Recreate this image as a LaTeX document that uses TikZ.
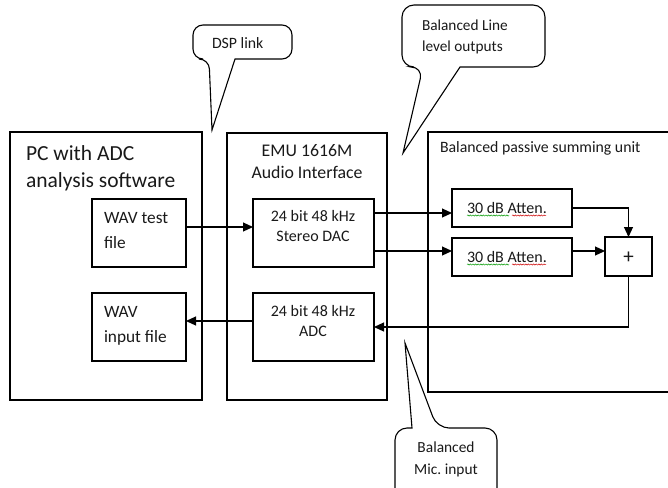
\documentclass[tikz,border=0pt]{standalone}
\usepackage{fontspec}
\setmainfont{Carlito}
\usetikzlibrary{arrows.meta,decorations.pathmorphing}
\frenchspacing
\begin{document}
\begin{tikzpicture}[x=1pt,y=-1pt,
  every node/.style={inner sep=0pt,outer sep=0pt},
  blk/.style={draw,line width=1.1pt,anchor=north west},
  txt/.style={font=\fontsize{15.8}{25}\selectfont,align=left,text=black!90},
  arr/.style={line width=1.1pt,-{Triangle[length=10pt,width=9pt]}},
  ln/.style={line width=1.1pt},
  callout/.style={draw,line width=1.1pt,fill=white,line join=miter},
  squig/.style={decorate,decoration={snake,amplitude=0.6pt,segment length=2.6pt},line width=0.5pt}]
\useasboundingbox (0,0) rectangle (668,487);
\clip (0,0) rectangle (668,487);
% outer boxes
\node[blk,minimum width=192pt,minimum height=268pt] (pc) at (10,132) {};
\node[blk,minimum width=160pt,minimum height=267pt] (emu) at (227,133) {};
\node[blk,minimum width=260pt,minimum height=260pt] (sum) at (428,132) {};
% titles
\node[txt,anchor=west,font=\fontsize{21.5}{27}\selectfont] (pct) at (26,168.5) {PC with ADC\\analysis software};
\node[txt,align=center,font=\fontsize{17.8}{22}\selectfont] (emut) at (307,162) {EMU 1616M\\Audio Interface};
\node[txt,anchor=west] (sumt) at (440,148) {Balanced passive summing unit};
% inner boxes
\node[blk,minimum width=94pt,minimum height=68pt] (wavtest) at (92,199) {};
\node[blk,minimum width=94pt,minimum height=68pt] (wavin) at (92,293) {};
\node[blk,minimum width=121pt,minimum height=68pt] (dac) at (253,199) {};
\node[blk,minimum width=121pt,minimum height=68pt] (adc) at (253,293) {};
\node[blk,minimum width=120pt,minimum height=38pt] (att1) at (452,189) {};
\node[blk,minimum width=120pt,minimum height=38pt] (att2) at (452,238) {};
\node[blk,minimum width=47pt,minimum height=39pt] (plus) at (605,237) {};
% inner texts
\node[txt,anchor=west,font=\fontsize{17.3}{25}\selectfont] (wavtestt) at (104,231) {WAV test\\file};
\node[txt,anchor=west,font=\fontsize{17.3}{25}\selectfont] (wavint) at (104,325.5) {WAV\\input file};
\node[txt,align=center,font=\fontsize{16}{20}\selectfont] (dact) at (313,226.5) {24 bit 48 kHz\\Stereo DAC};
\node[txt,align=center,font=\fontsize{16}{20}\selectfont] (adct) at (313,320.5) {24 bit 48 kHz\\ADC};
\node[txt,anchor=west,font=\fontsize{16}{20}\selectfont] (att1t) at (467,208) {30 dB Atten.};
\node[txt,anchor=west,font=\fontsize{16}{20}\selectfont] (att2t) at (467,257) {30 dB Atten.};
\node[txt,font=\fontsize{21}{24}\selectfont] (plust) at ([yshift=-1pt]plus.center) {+};
% spell-check squiggles
\draw[squig,green!60!black] (467,215.5) -- (509,215.5);
\draw[squig,red!80!black] (512,215.5) -- (546,215.5);
\draw[squig,green!60!black] (467,264.5) -- (509,264.5);
\draw[squig,red!80!black] (512,264.5) -- (546,264.5);
% connectors
\coordinate (c1) at ([yshift=6pt]wavtest.east);
\draw[arr] (c1) -- (c1 -| dac.west);
\coordinate (c2) at ([yshift=20pt]dac.east);
\draw[arr] (c2) -- (c2 -| att1.west);
\coordinate (c3) at ([yshift=-18pt]dac.east);
\draw[arr] (c3) -- (c3 -| att2.west);
\draw[arr] (att1.east) -| (plus.north);
\coordinate (c4) at ([yshift=6pt]att2.east);
\draw[arr] (c4) -- (c4 -| plus.west);
\draw[arr] (plus.south) |- (adc.east);
\coordinate (c5) at ([yshift=6pt]adc.west);
\draw[arr] (c5) -- (c5 -| wavin.east);
% callouts
\draw[callout] (212,130) -- (235,59) [rounded corners=10pt] -- (292,59) -- (292,25) -- (193,25) -- (193,59) -- (209,59) [sharp corners] -- cycle;
\node[txt,anchor=west] (dspt) at (212,43) {DSP link};
\draw[callout] (403,153) -- (460,67) [rounded corners=12pt] -- (545,67) -- (545,5) -- (402,5) -- (402,67) -- (423,67) [sharp corners] -- cycle;
\node[txt,anchor=west,font=\fontsize{15.3}{21}\selectfont] (linet) at (422,36.5) {Balanced Line\\level outputs};
\draw[callout] (405,343) -- (412,428) [rounded corners=12pt] -- (395,428) -- (395,500) -- (497,500) -- (497,428) -- (437,428) [sharp corners] -- cycle;
\node[txt,align=center,font=\fontsize{15.4}{22}\selectfont] (mict) at (446,459) {Balanced\\Mic. input};
\end{tikzpicture}
\end{document}
